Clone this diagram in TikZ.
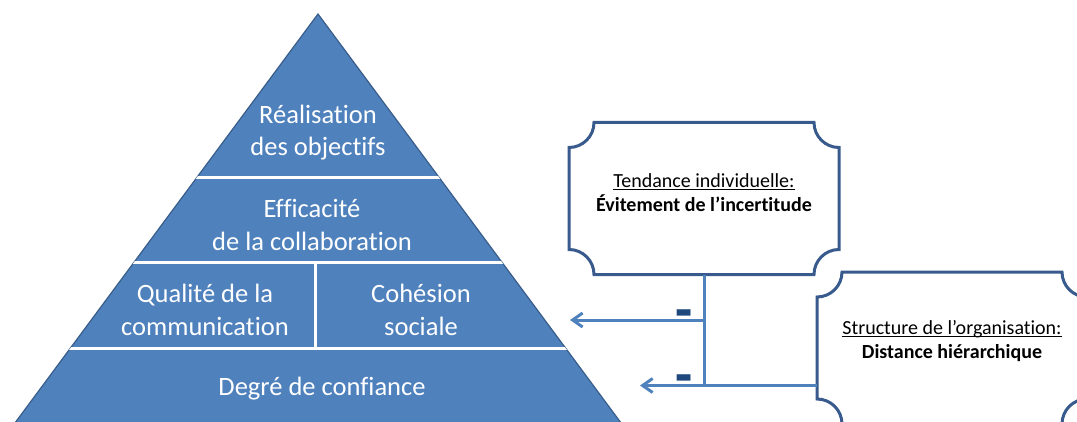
\documentclass[tikz,border=0pt]{standalone}
\usepackage{fontspec}
\setmainfont{Carlito}[Ligatures=NoCommon]
\usetikzlibrary{positioning,calc,arrows.meta}
\definecolor{pyrblue}{RGB}{79,129,189}
\definecolor{pyredge}{RGB}{56,93,138}
\definecolor{boxedge}{RGB}{56,90,140}
\definecolor{minusblue}{RGB}{31,73,125}
\newcommand{\uln}[1]{\setbox0\hbox{#1}\rlap{\rule[-2.6pt]{\wd0}{0.9pt}}\box0}
% outline with hollow corners round a named node
\newcommand{\plaque}[1]{\draw[plaqueline] ($(#1.north west)+(25,0)$) -- ($(#1.north east)+(-25,0)$) arc[start angle=180,end angle=270,radius=25pt] -- ($(#1.south east)+(0,25)$) arc[start angle=90,end angle=180,radius=25pt] -- ($(#1.south west)+(25,0)$) arc[start angle=0,end angle=90,radius=25pt] -- ($(#1.north west)+(0,-25)$) arc[start angle=270,end angle=360,radius=25pt] -- cycle;}
\begin{document}
\begin{tikzpicture}[x=1pt,y=1pt,
  pyrtext/.style={text=white,align=center,font=\fontsize{26.5}{32.5}\selectfont},
  plaquebox/.style={minimum width=270pt,minimum height=152pt,inner sep=0pt,outer sep=0pt},
  boxtext/.style={align=center,font=\fontsize{20}{24.5}\selectfont},
  plaqueline/.style={draw=boxedge,line width=3pt},
  conn/.style={draw=pyrblue,line width=3pt},
  minus/.style={anchor=base,yshift=-10pt,inner sep=0pt,text=minusblue,font=\bfseries\fontsize{28}{30}\selectfont}]
\useasboundingbox (0,0) rectangle (1077,421);
\clip (0,0) rectangle (1077,421);
% pyramid
\coordinate (apex) at (318,407);
\coordinate (baseL) at (9,-10);
\coordinate (baseR) at (627,-10);
\fill[pyrblue,draw=pyredge,line width=1.2pt] (apex) -- (baseL) -- (baseR) -- cycle;
\begin{scope}
  \clip (apex) -- (baseL) -- (baseR) -- cycle;
  \foreach \y in {243,158,73}{\draw[white,line width=3pt] (0,\y) -- (700,\y);}
\end{scope}
\draw[white,line width=3pt] (315,158) -- (315,73);
\node[pyrtext] (reali) at (318,288.5) {Réalisation\\des objectifs};
\node[pyrtext] (effic) at (312,196) {Efficacité\\de la collaboration};
\node[pyrtext] (qualite) at (205,111) {Qualité de la\\communication};
\node[pyrtext] (cohesion) at (421,111) {Cohésion\\sociale};
\node[pyrtext] (degre) at (322,32) {Degré de confiance};
% factors
\node[plaquebox] (tend) at (704,222.5) {};
\plaque{tend}
\node[boxtext] (tendtxt) at ([yshift=6pt]tend.center) {\uln{Tendance individuelle:}\\\textbf{Évitement de l’incertitude}};
\node[plaquebox] (hier) at (952,73) {};
\plaque{hier}
\node[boxtext] (hiertxt) at ([yshift=7pt]hier.center) {\uln{Structure de l’organisation:}\\\textbf{Distance hiérarchique}};
% connectors
\coordinate (tipA) at (570,101);
\coordinate (tipB) at (640,35.5);
\draw[conn] (tend.south) -- (tend.south |- tipB);
\draw[conn,-{Straight Barb[length=10pt,width=14pt]}] (tend.south |- tipA) -- (tipA) node[minus,pos=0.15] (minA) {\scalebox{2}[2.2]{-}};
\draw[conn,-{Straight Barb[length=10pt,width=14pt]}] (tipB -| hier.west) -- (tipB) node[minus,pos=0.75] (minB) {\scalebox{2}[2.2]{-}};
\end{tikzpicture}
\end{document}
